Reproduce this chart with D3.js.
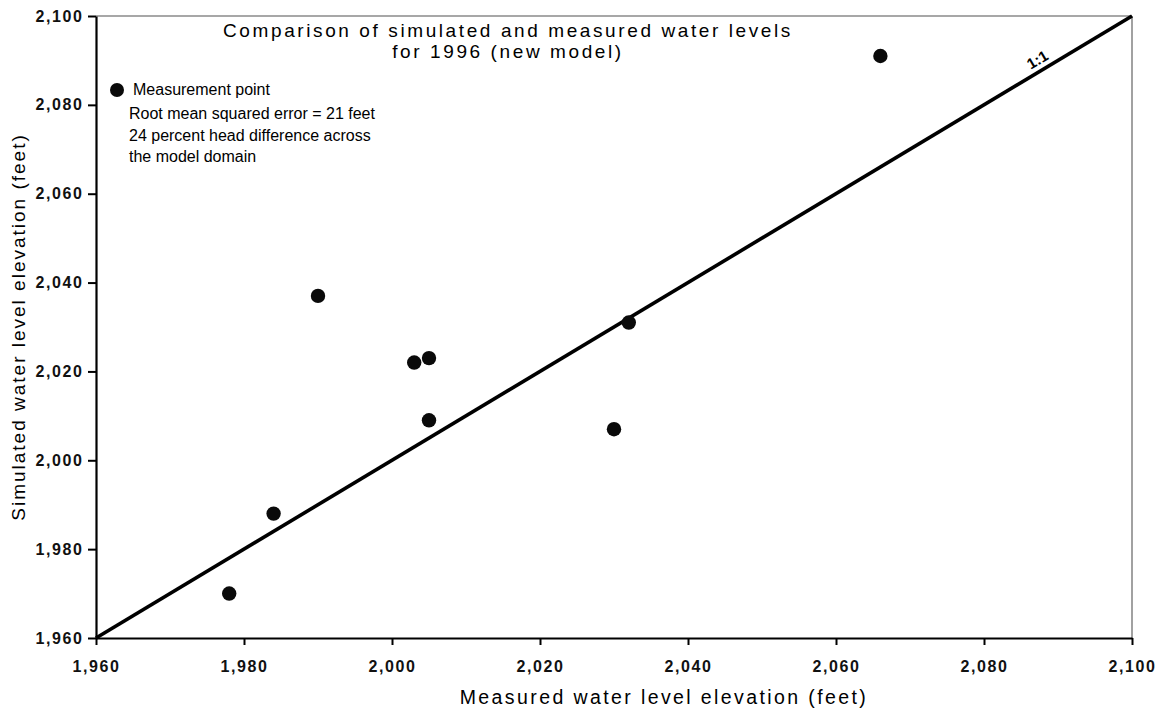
<!DOCTYPE html>
<html>
<head>
<meta charset="utf-8">
<script src="https://cdn.jsdelivr.net/npm/d3@7"></script>
<style>
  html, body { margin: 0; padding: 0; background: #fff; }
  svg { display: block; font-family: "Liberation Sans", Arial, sans-serif; }
</style>
</head>
<body>
<svg id="chart" width="1167" height="712"></svg>
<script>
// ---- data ----
const measured  = [1978, 1984, 1990, 2003, 2005, 2005, 2030, 2032, 2066];
const simulated = [1970, 1988, 2037, 2022, 2023, 2009, 2007, 2031, 2091];
const oneToOne  = [1960, 2100];
const tickValues = [1960, 1980, 2000, 2020, 2040, 2060, 2080, 2100];
const titleLines = ["Comparison of simulated and measured water levels", "for 1996 (new model)"];
const legendLabel = "Measurement point";
const noteLines = ["Root mean squared error = 21 feet", "24 percent head difference across", "the model domain"];
const xTitle = "Measured water level elevation (feet)";
const yTitle = "Simulated water level elevation (feet)";
const lineLabel = "1:1";

const svg = d3.select("#chart");
const L = 96, R = 1132, T = 16, B = 638;
const x = d3.scaleLinear().domain([1960, 2100]).range([L, R]);
const y = d3.scaleLinear().domain([1960, 2100]).range([B, T]);
const fmt = d3.format(",");

// frame (top/right gray)
svg.append("line").attr("x1", L).attr("x2", R).attr("y1", T).attr("y2", T)
  .attr("stroke", "#8a8a8a").attr("stroke-width", 1.6);
svg.append("line").attr("x1", R).attr("x2", R).attr("y1", T).attr("y2", B)
  .attr("stroke", "#8a8a8a").attr("stroke-width", 1.6);

// axes
const xAxis = d3.axisBottom(x).tickValues(tickValues).tickFormat(fmt).tickSize(7).tickPadding(16).tickSizeOuter(0);
const yAxis = d3.axisLeft(y).tickValues(tickValues).tickFormat(fmt).tickSize(8).tickPadding(6).tickSizeOuter(0);

const gx = svg.append("g").attr("transform", `translate(0,${B})`).call(xAxis);
const gy = svg.append("g").attr("transform", `translate(${L},0)`).call(yAxis);
[gx, gy].forEach(g => {
  g.select(".domain").attr("stroke", "#000").attr("stroke-width", 2.2);
  g.selectAll(".tick line").attr("stroke", "#000").attr("stroke-width", 2);
  g.selectAll(".tick text").attr("fill", "#111").attr("font-size", 16)
    .attr("font-family", "Liberation Sans, Arial, sans-serif")
    .attr("font-weight", "bold").style("letter-spacing", "1.6px");
});
gy.selectAll(".tick text").attr("dx", "1.6px");

// 1:1 line
svg.append("line")
  .attr("x1", x(oneToOne[0])).attr("y1", y(oneToOne[0]))
  .attr("x2", x(oneToOne[1])).attr("y2", y(oneToOne[1]))
  .attr("stroke", "#000").attr("stroke-width", 3.6);

// 1:1 label
const ang = -Math.atan2(y(oneToOne[0]) - y(oneToOne[1]), x(oneToOne[1]) - x(oneToOne[0])) * 180 / Math.PI;
const lx = x(2088), ly = y(2088);
svg.append("text").text(lineLabel)
  .attr("transform", `translate(${lx},${ly}) rotate(${ang}) translate(0,-6)`)
  .attr("text-anchor", "middle").attr("font-size", 15).attr("font-weight", "bold").attr("fill", "#000");

// points
svg.append("g").selectAll("circle").data(measured.map((m, i) => [m, simulated[i]]))
  .join("circle").attr("cx", d => x(d[0])).attr("cy", d => y(d[1])).attr("r", 7.2).attr("fill", "#0a0a0a");

// title
svg.append("g").selectAll("text").data(titleLines).join("text")
  .attr("x", 508).attr("y", (d, i) => 37 + i * 21)
  .attr("text-anchor", "middle").attr("font-size", 19).style("letter-spacing", "2.6px")
  .attr("fill", "#000").text(d => d);

// legend
svg.append("circle").attr("cx", 117).attr("cy", 90).attr("r", 7).attr("fill", "#0a0a0a");
svg.append("text").attr("x", 133).attr("y", 95).attr("font-size", 16).attr("fill", "#000").text(legendLabel);
svg.append("g").selectAll("text").data(noteLines).join("text")
  .attr("x", 129).attr("y", (d, i) => 119 + i * 21.5)
  .attr("font-size", 16).attr("fill", "#000").text(d => d);

// axis titles
svg.append("text").attr("x", 664).attr("y", 704)
  .attr("text-anchor", "middle").attr("font-size", 19.5).style("letter-spacing", "2.4px")
  .attr("fill", "#000").text(xTitle);
svg.append("text").attr("transform", `translate(25,${(T + B) / 2}) rotate(-90)`)
  .attr("text-anchor", "middle").attr("font-size", 19).style("letter-spacing", "2px")
  .attr("fill", "#000").text(yTitle);
</script>
</body>
</html>
